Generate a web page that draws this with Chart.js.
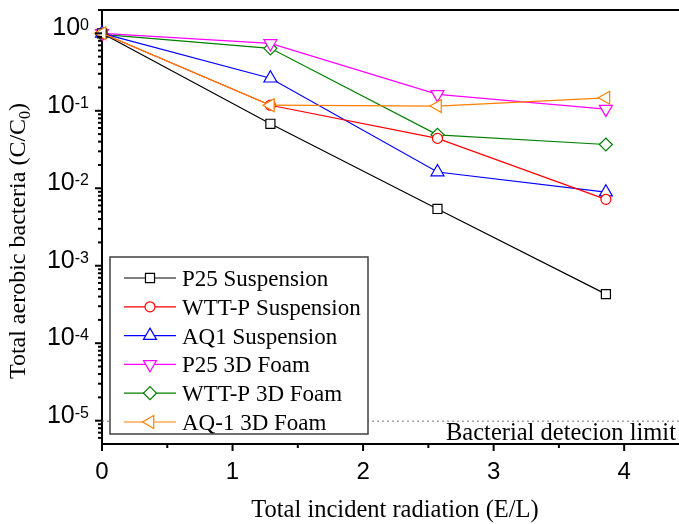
<!DOCTYPE html>
<html>
<head>
<meta charset="utf-8">
<script src="https://cdn.jsdelivr.net/npm/chart.js@4.4.1/dist/chart.umd.min.js"></script>
<style>
    html, body { margin: 0; padding: 0; background: #fff; overflow: hidden; }
    #wrap { position: relative; width: 679px; height: 524px; }
</style>
</head>
<body>
<div id="wrap"><canvas id="chart" width="679" height="524"></canvas></div>
<script>
// 數據
const X_VALUES = [0, 1.29, 2.57, 3.86];
const P25_SUSPENSION = [1, 0.068, 0.0054, 0.00043];
const WTTP_SUSPENSION = [1, 0.118, 0.044, 0.0072];
const AQ1_SUSPENSION = [1, 0.263, 0.0162, 0.0089];
const P25_FOAM = [1, 0.74, 0.163, 0.105];
const WTTP_FOAM = [0.97, 0.64, 0.049, 0.0367];
const AQ1_FOAM = [1, 0.118, 0.115, 0.147];

const SERIES_LABELS = ['P25 Suspension', 'WTT-P Suspension', 'AQ1 Suspension',
                       'P25 3D Foam', 'WTT-P 3D Foam', 'AQ-1 3D Foam'];
const X_TICKS = [0, 1, 2, 3, 4];
const Y_EXPONENTS = [0, -1, -2, -3, -4, -5];
const DETECTION_LIMIT = 1e-5;
const DETECTION_TEXT = 'Bacterial detecion limit';
const X_TITLE = 'Total incident radiation (E/L)';

const SERIF = '"Liberation Serif", "Times New Roman", serif';
const SANS = '"Liberation Sans", Arial, sans-serif';

const STYLES = [
    { color: '#000000', pointStyle: 'rect', radius: 6.4, rotation: 0, order: 2 },
    { color: '#ff0000', pointStyle: 'circle', radius: 5, rotation: 0, order: 3 },
    { color: '#0000ff', pointStyle: 'triangle', radius: 7.5, rotation: 0, order: 4 },
    { color: '#ff00ff', pointStyle: 'triangle', radius: 7.5, rotation: 180, order: 5 },
    { color: '#008000', pointStyle: 'rectRot', radius: 6.5, rotation: 0, order: 6 },
    { color: '#ff8000', pointStyle: 'triangle', radius: 7.5, rotation: 270, order: 1 }
];

const SERIES = [P25_SUSPENSION, WTTP_SUSPENSION, AQ1_SUSPENSION, P25_FOAM, WTTP_FOAM, AQ1_FOAM];

const datasets = SERIES.map((values, i) => {
    const s = STYLES[i];
    return {
        label: SERIES_LABELS[i],
        data: X_VALUES.map((x, j) => ({ x: x, y: values[j] })),
        borderColor: s.color,
        backgroundColor: '#ffffff',
        borderWidth: 1.2,
        pointStyle: s.pointStyle,
        pointRadius: s.radius,
        pointRotation: s.rotation,
        pointBackgroundColor: '#ffffff',
        pointBorderColor: s.color,
        pointBorderWidth: 1.2,
        tension: 0,
        clip: false,
        order: s.order
    };
});

/**
 * 畫文字
 */
function drawText(ctx, text, x, y, font, align, color) {
    ctx.save();
    ctx.font = font;
    ctx.fillStyle = color || '#000';
    ctx.textAlign = align || 'left';
    ctx.textBaseline = 'alphabetic';
    ctx.fillText(text, x, y);
    ctx.restore();
}

const decorPlugin = {
    id: 'decor',
    beforeDatasetsDraw(chart) {
        // 偵測極限虛線
        const ctx = chart.ctx;
        const area = chart.chartArea;
        const y = chart.scales.y.getPixelForValue(DETECTION_LIMIT);
        ctx.save();
        ctx.strokeStyle = '#777';
        ctx.lineWidth = 1;
        ctx.setLineDash([2, 3]);
        ctx.beginPath();
        ctx.moveTo(area.left, y + 0.5);
        ctx.lineTo(area.right, y + 0.5);
        ctx.stroke();
        ctx.restore();
    },
    afterDatasetsDraw(chart) {
        // 圖例
        const ctx = chart.ctx;
        const box = { left: 110, top: 257, right: 368, bottom: 434 };
        ctx.save();
        ctx.fillStyle = '#fff';
        ctx.fillRect(box.left, box.top, box.right - box.left, box.bottom - box.top);
        ctx.strokeStyle = '#404040';
        ctx.lineWidth = 1.5;
        ctx.strokeRect(box.left, box.top, box.right - box.left, box.bottom - box.top);
        SERIES_LABELS.forEach((label, i) => {
            const s = STYLES[i];
            const y = 278 + i * 28.8;
            ctx.strokeStyle = s.color;
            ctx.lineWidth = 1.2;
            ctx.beginPath();
            ctx.moveTo(124, y);
            ctx.lineTo(176, y);
            ctx.stroke();
            ctx.fillStyle = '#fff';
            Chart.helpers.drawPoint(ctx, {
                pointStyle: s.pointStyle, radius: s.radius,
                rotation: s.rotation, borderWidth: 1.2
            }, 150, y);
            drawText(ctx, label, 182, y + 8, '23px ' + SERIF, 'left');
        });
        ctx.restore();
    },
    afterDraw(chart) {
        const ctx = chart.ctx;
        const area = chart.chartArea;
        const xs = chart.scales.x;
        const ys = chart.scales.y;
        ctx.save();
        ctx.strokeStyle = '#000';
        ctx.lineWidth = 2;

        // 上框線
        ctx.beginPath();
        ctx.moveTo(area.left, area.top);
        ctx.lineTo(area.right, area.top);
        ctx.stroke();

        // X 軸刻度
        for (let v = 0; v <= xs.max; v += 0.5) {
            const px = xs.getPixelForValue(v);
            const len = Number.isInteger(v) ? 7 : 4;
            ctx.beginPath();
            ctx.moveTo(px, area.bottom);
            ctx.lineTo(px, area.bottom + len);
            ctx.stroke();
        }
        X_TICKS.forEach(v => {
            drawText(ctx, String(v), xs.getPixelForValue(v), 479, '24px ' + SANS, 'center');
        });

        // Y 軸刻度 (對數)
        for (let e = -6; e <= 0; e++) {
            for (let m = 1; m <= 9; m++) {
                const v = m * Math.pow(10, e);
                if (v < ys.min || v > ys.max) continue;
                const py = ys.getPixelForValue(v);
                const len = m === 1 ? 7 : 4;
                ctx.beginPath();
                ctx.moveTo(area.left, py);
                ctx.lineTo(area.left - len, py);
                ctx.stroke();
            }
        }
        Y_EXPONENTS.forEach(e => {
            const py = ys.getPixelForValue(Math.pow(10, e));
            const sup = String(e);
            ctx.font = '16px ' + SANS;
            const supW = ctx.measureText(sup).width;
            const right = 89;
            drawText(ctx, sup, right, py - 3, '16px ' + SANS, 'right');
            drawText(ctx, '10', right - supW, py + 2, '25px ' + SANS, 'right');
        });

        // X 軸標題
        drawText(ctx, X_TITLE, 395, 517, '24.5px ' + SERIF, 'center');

        // Y 軸標題 (含下標)
        ctx.save();
        ctx.translate(25, 241);
        ctx.rotate(-Math.PI / 2);
        const mainFont = '24px ' + SERIF;
        const subFont = '16px ' + SERIF;
        const partA = 'Total aerobic bacteria (C/C';
        const partB = '0';
        const partC = ')';
        ctx.font = mainFont;
        const wA = ctx.measureText(partA).width;
        const wC = ctx.measureText(partC).width;
        ctx.font = subFont;
        const wB = ctx.measureText(partB).width;
        const x0 = -(wA + wB + wC) / 2;
        drawText(ctx, partA, x0, 0, mainFont, 'left');
        drawText(ctx, partB, x0 + wA, 5, subFont, 'left');
        drawText(ctx, partC, x0 + wA + wB, 0, mainFont, 'left');
        ctx.restore();

        // 偵測極限文字
        drawText(ctx, DETECTION_TEXT, 446, 440, '24.5px ' + SERIF, 'left');
        ctx.restore();
    }
};

const ctx = document.getElementById('chart').getContext('2d');
const chart = new Chart(ctx, {
    type: 'line',
    data: { datasets: datasets },
    options: {
        responsive: false,
        devicePixelRatio: 1,
        animation: false,
        layout: {
            autoPadding: false,
            padding: { top: 10, right: 0, bottom: 0, left: 0 }
        },
        plugins: {
            legend: { display: false },
            tooltip: { enabled: false }
        },
        scales: {
            x: {
                type: 'linear',
                min: 0,
                max: 4.42,
                grid: { display: false },
                ticks: { display: false },
                border: { display: true, color: '#000', width: 2 },
                afterFit: scale => { scale.height = 80; }
            },
            y: {
                type: 'logarithmic',
                min: 5e-6,
                max: 2,
                grid: { display: false },
                ticks: { display: false },
                border: { display: true, color: '#000', width: 2 },
                afterFit: scale => { scale.width = 102; }
            }
        }
    },
    plugins: [decorPlugin]
});
</script>
</body>
</html>
